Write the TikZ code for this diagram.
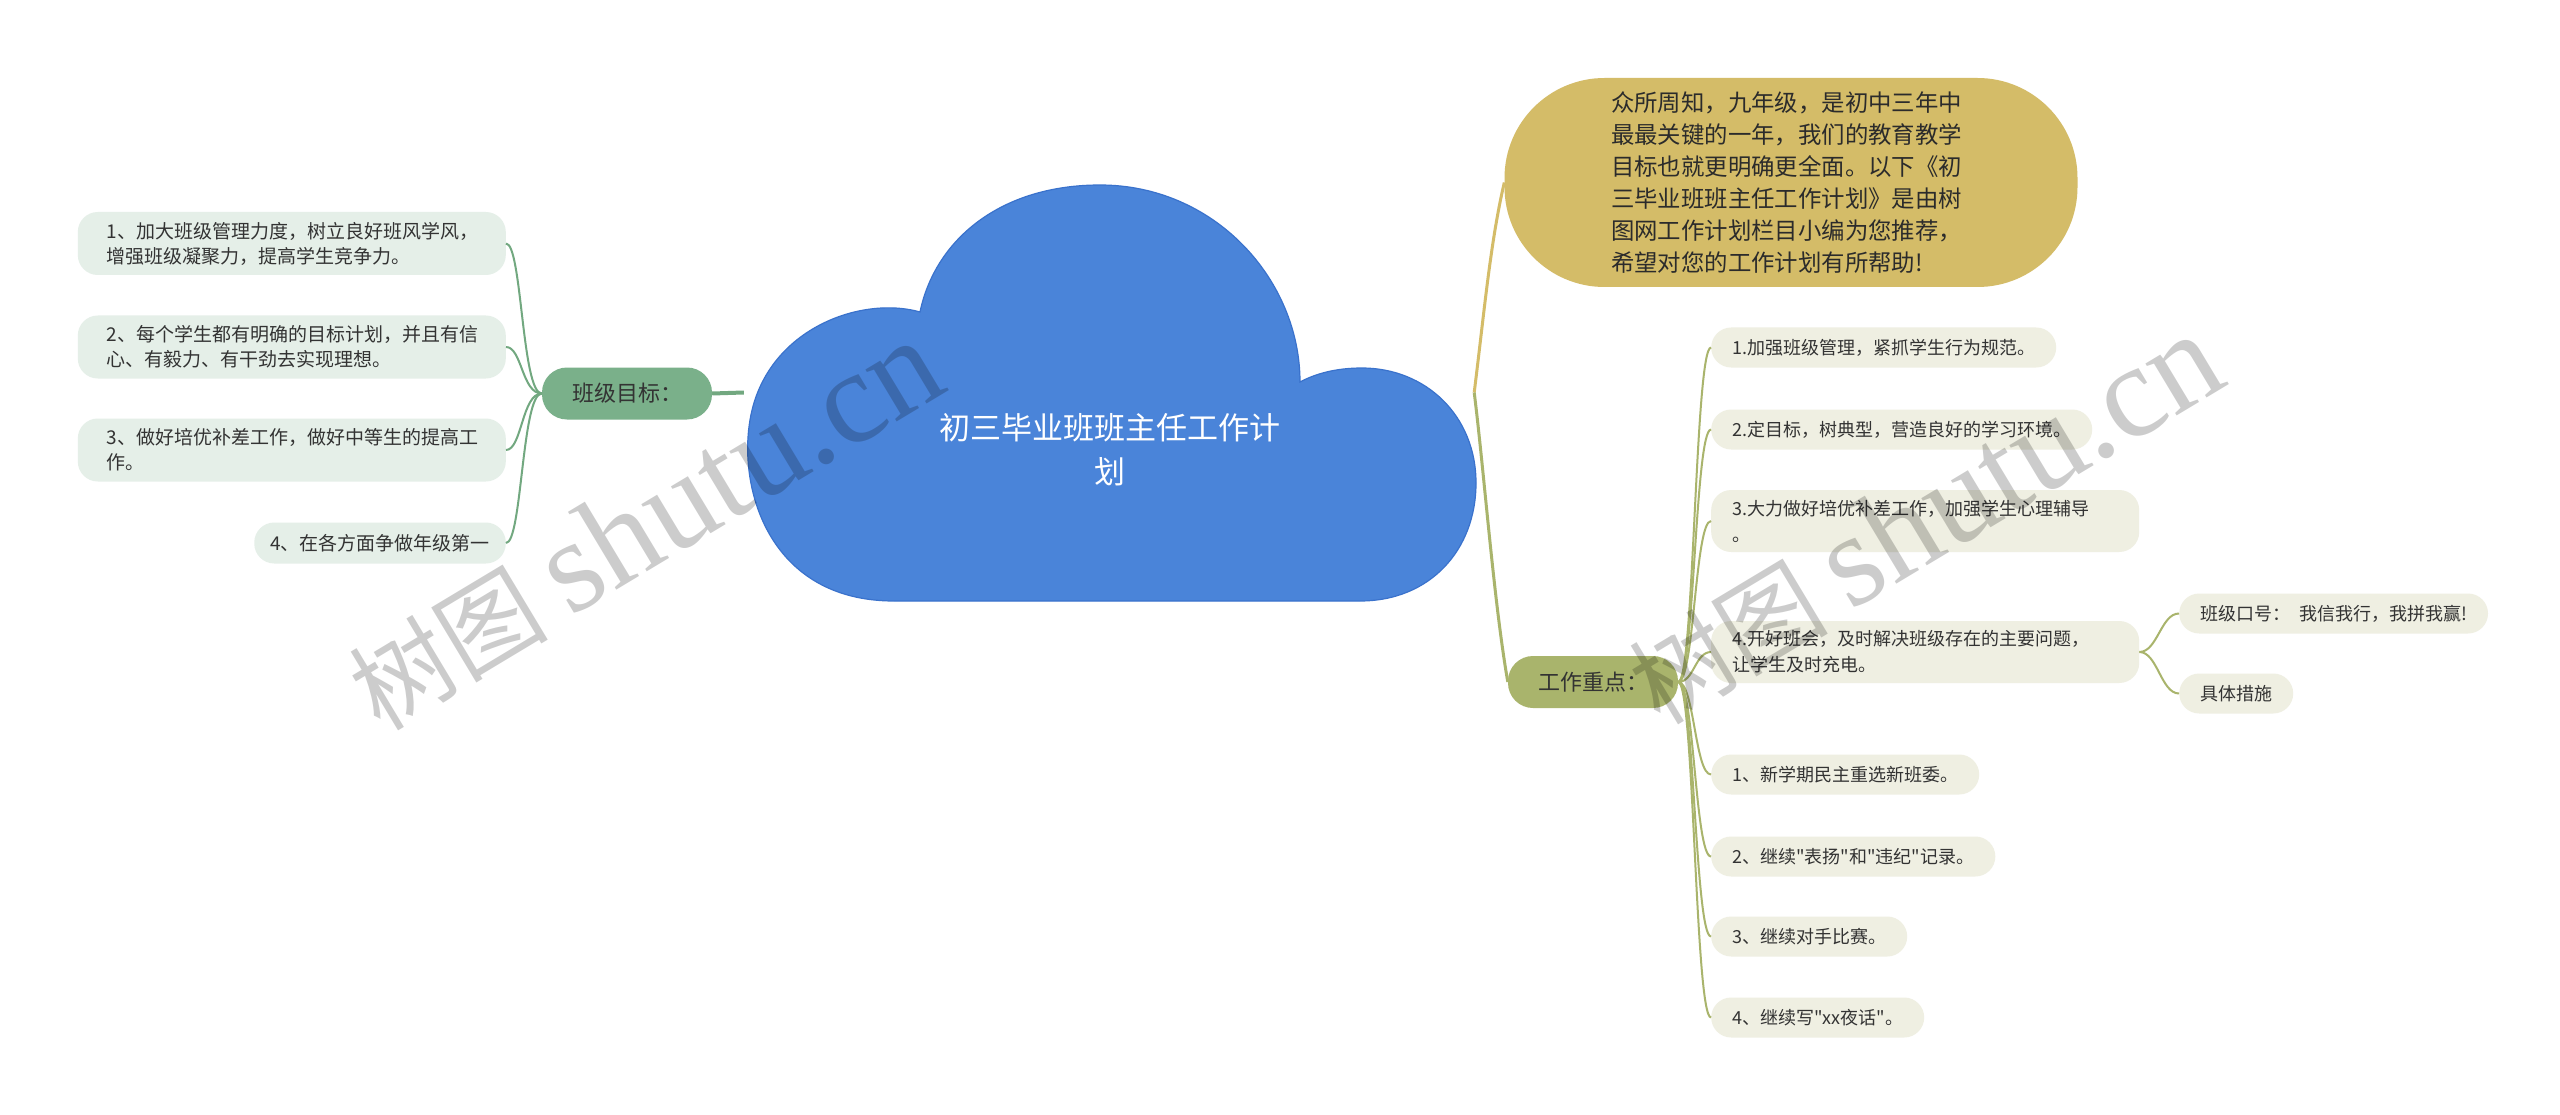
\documentclass[tikz,border=0pt]{standalone}
\usepackage{fontspec}
\setmainfont{Noto Sans CJK SC}[Ligatures=TeXOff]
\newfontfamily\wmlatin{Liberation Serif}
\usetikzlibrary{positioning}
\definecolor{cloudfill}{HTML}{4A84D9}
\definecolor{clouddraw}{HTML}{3A72CC}
\definecolor{goalfill}{HTML}{7AB08A}
\definecolor{goalline}{HTML}{72A880}
\definecolor{gleaffill}{HTML}{E5EFE8}
\definecolor{introfill}{HTML}{D4BC68}
\definecolor{focusfill}{HTML}{A9B46C}
\definecolor{fleaffill}{HTML}{EFEFE2}
\definecolor{inktext}{HTML}{333333}
\tikzset{
  cloudshape/.style ={fill=cloudfill,draw=clouddraw,line width=1.2pt},
  cloudbox/.style   ={minimum width=730pt,minimum height=417pt,inner sep=0pt},
  cloudtitle/.style ={text=white,align=center,font=\fontsize{31}{44}\selectfont},
  branchhead/.style ={rounded corners=25pt,minimum width=170pt,minimum height=52pt,text=inktext,font=\fontsize{22}{28}\selectfont},
  introbox/.style   ={fill=introfill,rounded corners=100pt,minimum width=573pt,minimum height=209pt,
                      text width=360pt,align=left,text=inktext!85!black,font=\fontsize{23.4}{32}\selectfont},
  gleaf/.style      ={fill=gleaffill,rounded corners=20pt,align=left,text=inktext,minimum height=41pt,
                      inner xsep=16pt,font=\fontsize{19}{25}\selectfont},
  gwide/.style      ={gleaf,text width=370pt,inner xsep=29pt,inner ysep=4pt,minimum height=63pt},
  fleaf/.style      ={fill=fleaffill,rounded corners=20pt,align=left,text=inktext,minimum height=40pt,
                      inner xsep=21pt,font=\fontsize{18}{26}\selectfont},
  fwide/.style      ={fleaf,text width=386pt,inner ysep=4pt,minimum height=62pt},
  gbranch/.style    ={draw=goalline,line width=2pt},
  fbranch/.style    ={draw=focusfill,line width=2pt},
  watermark/.style  ={text=black,opacity=0.2,rotate=31,inner sep=0pt}
}
\begin{document}
\begin{tikzpicture}[x=1pt,y=-1pt]
  \fill[white] (0,0) rectangle (2560,1115);
  \useasboundingbox (0,0) rectangle (2560,1115);
  % central cloud
  \draw[cloudshape] (894,601) -- (1360,601)
    .. controls (1430,601) and (1476,550) .. (1476,483)
    .. controls (1476,415) and (1425,368) .. (1362,368)
    .. controls (1335,368) and (1315,374) .. (1300,382)
    .. controls (1300,280) and (1215,185) .. (1100,185)
    .. controls (1000,185) and (935,240) .. (920,312)
    .. controls (860,295) and (765,330) .. (750,420)
    .. controls (738,490) and (770,601) .. (894,601) -- cycle;
  \node[cloudbox] (root) at (1109,392.5) {};
  \node[cloudtitle] (title) at (1110,450) {初三毕业班班主任工作计\\划};

  % left branch
  \node[branchhead,fill=goalfill] (goal) at (627,393.5) {班级目标：};
  \node[gwide,anchor=east] (g1) at (506,243.5) {1、加大班级管理力度，树立良好班风学风，\\增强班级凝聚力，提高学生竞争力。};
  \node[gwide,anchor=east] (g2) at (506,347)   {2、每个学生都有明确的目标计划，并且有信\\心、有毅力、有干劲去实现理想。};
  \node[gwide,anchor=east] (g3) at (506,450)   {3、做好培优补差工作，做好中等生的提高工\\作。};
  \node[gleaf,anchor=east] (g4) at (506,543)   {4、在各方面争做年级第一};
  \draw[goalline,line width=4pt] (goal.east) -- (root.west);
  \foreach \g in {g1,g2,g3,g4}
    \draw[gbranch] (goal.west) .. controls +(-20,0) and +(16,0) .. (\g.east);

  % right branches
  \node[introbox] (intro) at (1791,182.5) {众所周知，九年级，是初中三年中\\最最关键的一年，我们的教育教学\\目标也就更明确更全面。以下《初\\三毕业班班主任工作计划》是由树\\图网工作计划栏目小编为您推荐，\\希望对您的工作计划有所帮助!};
  \node[branchhead,fill=focusfill] (focus) at (1593,682) {工作重点：};
  \node[fleaf,anchor=west] (f1) at (1711,347.5)  {1.加强班级管理，紧抓学生行为规范。};
  \node[fleaf,anchor=west] (f2) at (1711,429.5)  {2.定目标，树典型，营造良好的学习环境。};
  \node[fwide,anchor=west] (f3) at (1711,521)    {3.大力做好培优补差工作，加强学生心理辅导\\。};
  \node[fwide,anchor=west] (f4) at (1711,652)    {4.开好班会，及时解决班级存在的主要问题，\\让学生及时充电。};
  \node[fleaf,anchor=west] (f4a) at (2179,613.5) {班级口号：\enspace 我信我行，我拼我赢!};
  \node[fleaf,anchor=west] (f4b) at (2179,693.5) {具体措施};
  \node[fleaf,anchor=west] (f5) at (1711,774.5)  {1、新学期民主重选新班委。};
  \node[fleaf,anchor=west] (f6) at (1711,856.5)  {2、继续"表扬"和"违纪"记录。};
  \node[fleaf,anchor=west] (f7) at (1711,936.5)  {3、继续对手比赛。};
  \node[fleaf,anchor=west] (f8) at (1711,1017.5) {4、继续写"xx夜话"。};
  \draw[introfill,line width=3pt] (root.east) .. controls +(10,-80) and +(-14,60) .. (intro.west);
  \draw[focusfill,line width=3pt] (root.east) .. controls +(10,80) and +(-14,-80) .. (focus.west);
  \foreach \f in {f1,f2,f3,f4,f5,f6,f7,f8}
    \draw[fbranch] (focus.east) .. controls +(16,0) and +(-16,0) .. (\f.west);
  \foreach \s in {f4a,f4b}
    \draw[fbranch] (f4.east) .. controls +(18,0) and +(-18,0) .. (\s.west);

  % watermarks
  \node[watermark] (wm1) at (644,525)
    {\fontsize{100}{100}\selectfont 树图\ {\wmlatin\fontsize{132}{132}\selectfont shutu.cn}};
  \node[watermark] (wm2) at (1924,519)
    {\fontsize{100}{100}\selectfont 树图\ {\wmlatin\fontsize{132}{132}\selectfont shutu.cn}};
\end{tikzpicture}
\end{document}
